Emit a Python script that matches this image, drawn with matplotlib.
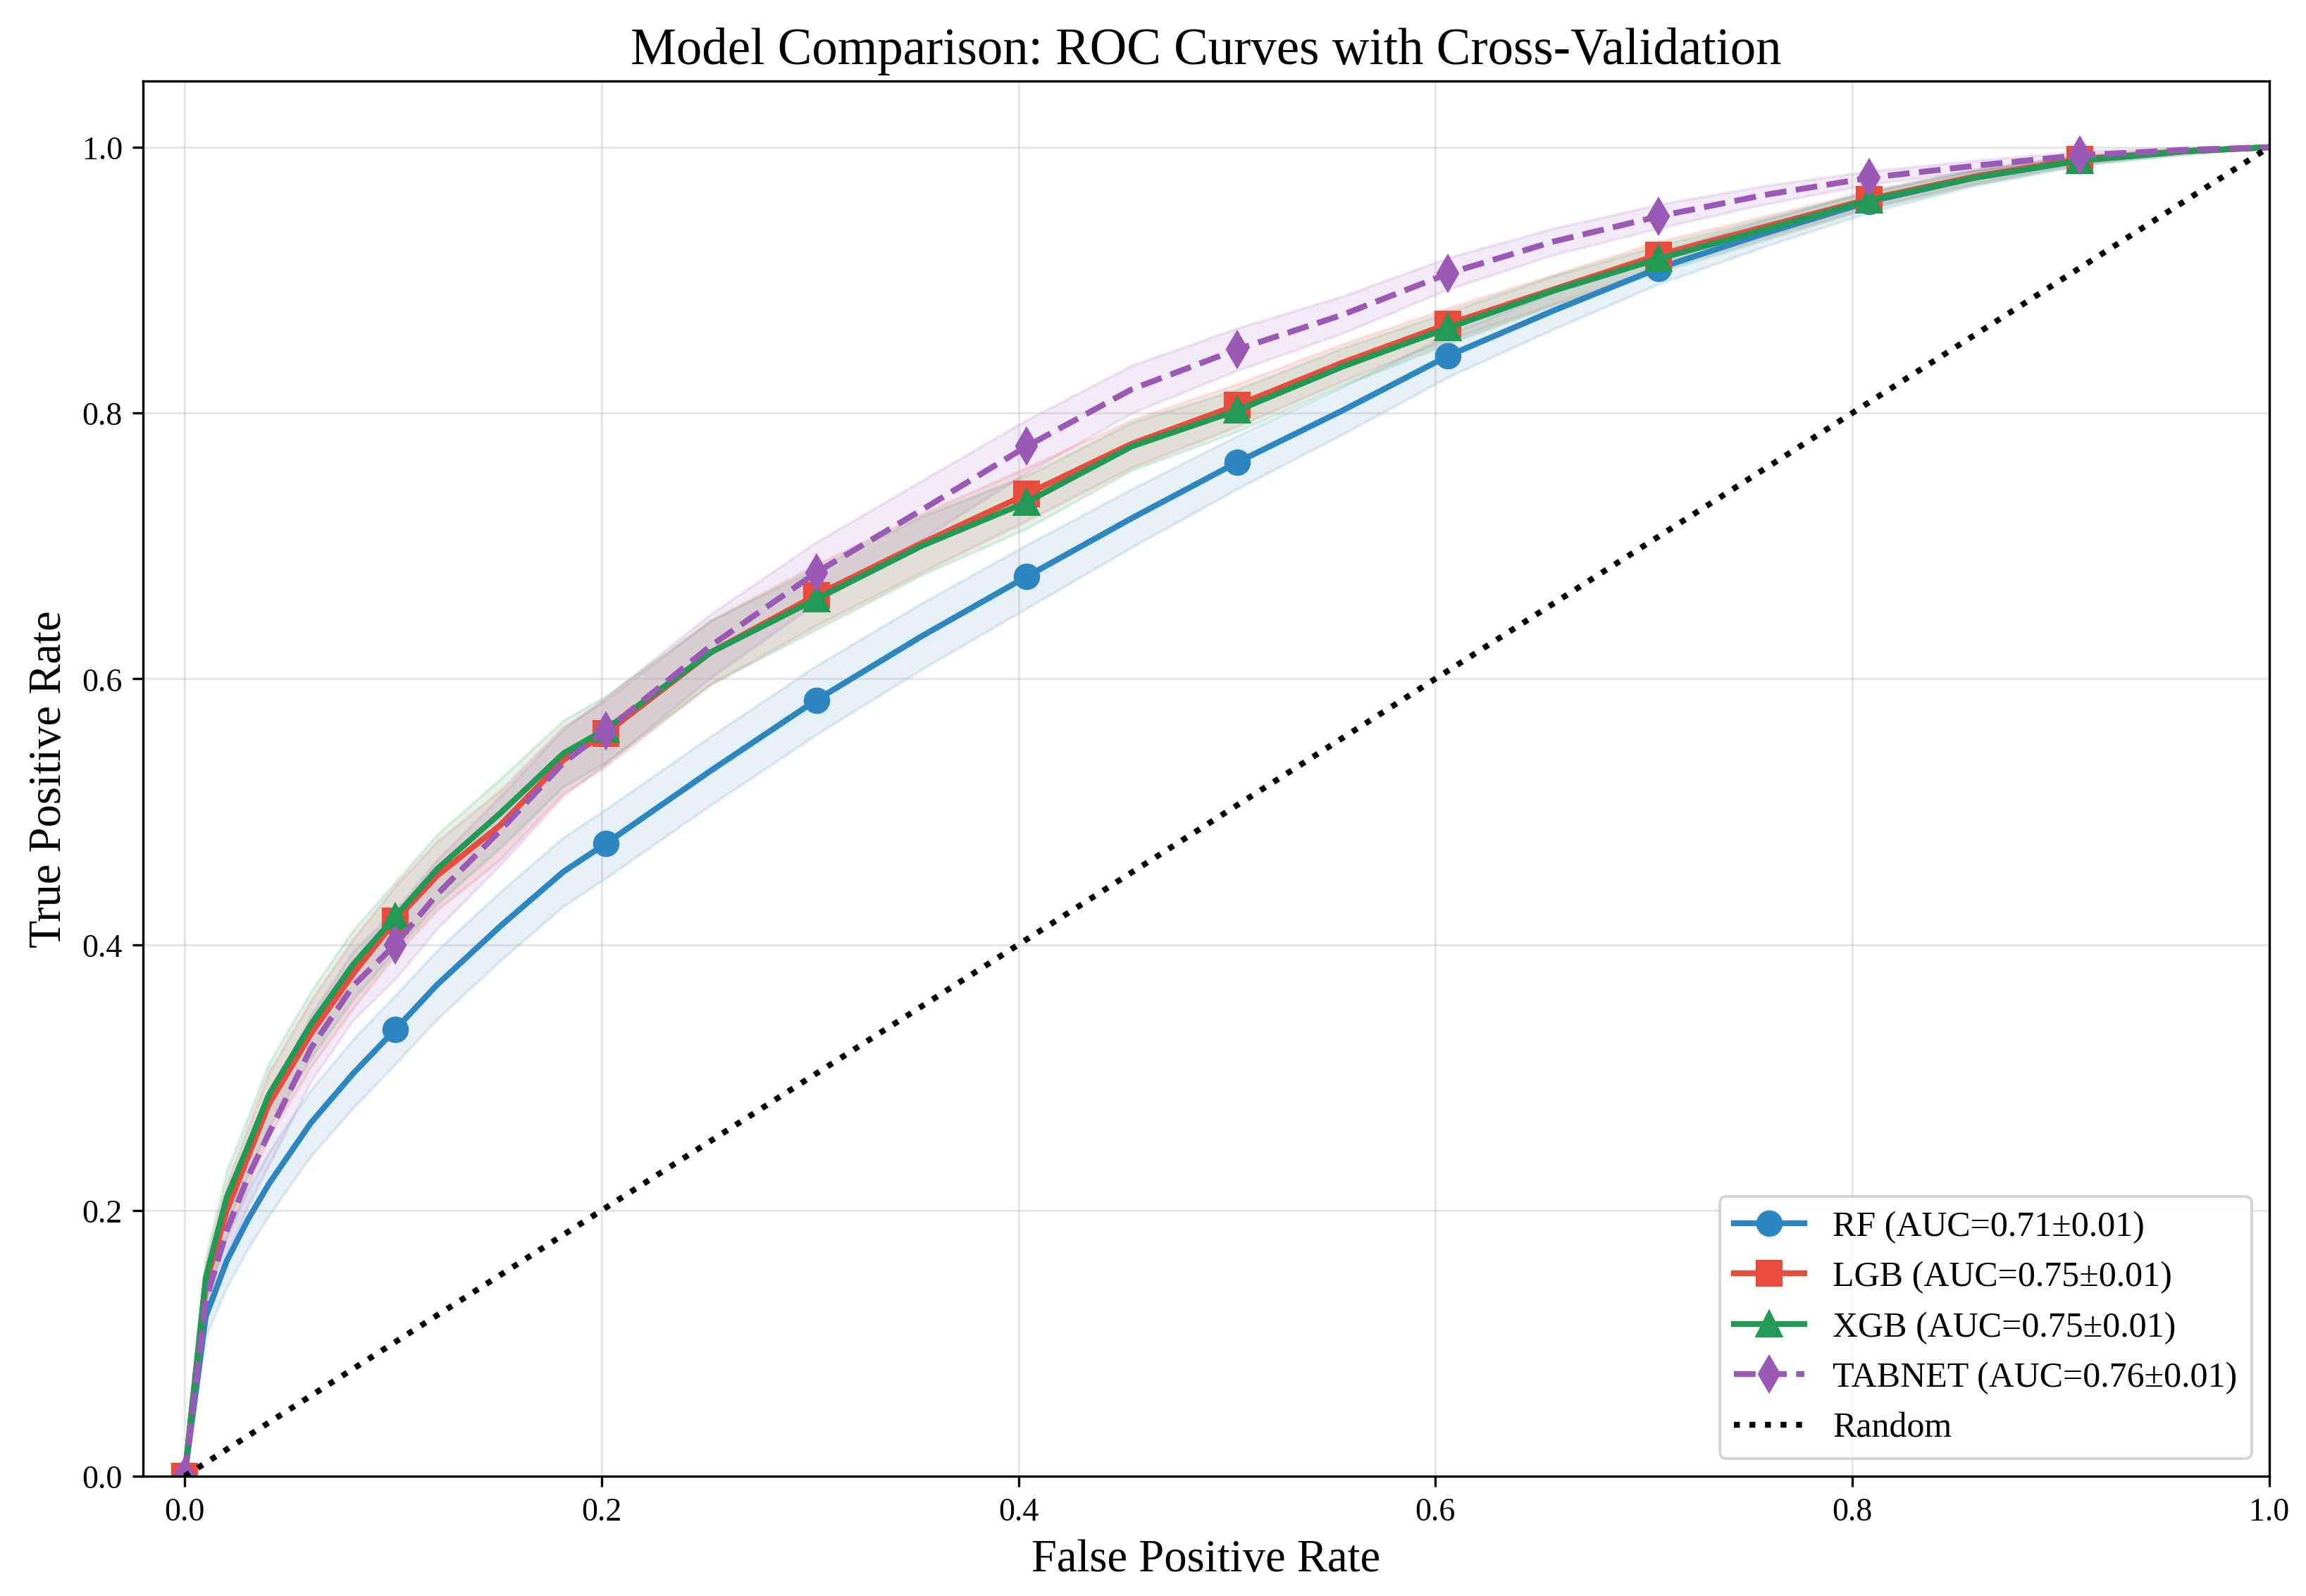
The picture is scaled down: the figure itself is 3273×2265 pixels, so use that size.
import matplotlib
matplotlib.use('Agg')
import matplotlib.pyplot as plt

plt.rcParams['font.family'] = ['Liberation Serif', 'DejaVu Serif']

# mean FPR grid (subset of the 100-point grid), markers every 10th grid point
fpr = [0.0, 0.0101, 0.0202, 0.0303, 0.0404, 0.0606, 0.0808, 0.1010, 0.1212,
       0.1515, 0.1818, 0.2020, 0.2525, 0.3030, 0.3535, 0.4040, 0.4545, 0.5051,
       0.5556, 0.6061, 0.6566, 0.7071, 0.7576, 0.8081, 0.8586, 0.9091, 0.9596, 1.0]
marker_idx = [0, 7, 11, 13, 15, 17, 19, 21, 23, 25]

models = ['RF', 'LGB', 'XGB', 'TABNET']
auc_mean = [0.71, 0.75, 0.75, 0.76]
auc_std = [0.01, 0.01, 0.01, 0.01]

tpr_rf = [0.0, 0.120, 0.162, 0.193, 0.220, 0.266, 0.303, 0.336, 0.370,
          0.414, 0.455, 0.476, 0.531, 0.584, 0.632, 0.677, 0.721, 0.763,
          0.802, 0.843, 0.877, 0.909, 0.935, 0.959, 0.977, 0.990, 0.997, 1.0]
tpr_lgb = [0.0, 0.145, 0.200, 0.240, 0.280, 0.333, 0.378, 0.418, 0.452,
           0.490, 0.539, 0.559, 0.620, 0.663, 0.702, 0.739, 0.777, 0.806,
           0.838, 0.867, 0.893, 0.919, 0.940, 0.961, 0.978, 0.991, 0.997, 1.0]
tpr_xgb = [0.0, 0.149, 0.210, 0.248, 0.287, 0.340, 0.385, 0.421, 0.457,
           0.499, 0.544, 0.562, 0.620, 0.660, 0.700, 0.733, 0.775, 0.802,
           0.835, 0.864, 0.892, 0.916, 0.938, 0.960, 0.977, 0.990, 0.997, 1.0]
tpr_tabnet = [0.0, 0.132, 0.185, 0.225, 0.258, 0.322, 0.369, 0.400, 0.438,
              0.486, 0.537, 0.561, 0.625, 0.680, 0.727, 0.775, 0.818, 0.848,
              0.874, 0.905, 0.929, 0.948, 0.964, 0.977, 0.986, 0.994, 0.998, 1.0]

std_rf = [0.0, 0.015, 0.020, 0.022, 0.024, 0.025, 0.026, 0.026, 0.026,
          0.026, 0.026, 0.026, 0.026, 0.026, 0.025, 0.024, 0.022, 0.020,
          0.018, 0.016, 0.014, 0.012, 0.010, 0.008, 0.006, 0.004, 0.002, 0.0]
std_lgb = [0.0, 0.015, 0.020, 0.022, 0.024, 0.025, 0.026, 0.026, 0.026,
           0.026, 0.025, 0.025, 0.024, 0.023, 0.022, 0.020, 0.018, 0.016,
           0.014, 0.012, 0.011, 0.010, 0.008, 0.006, 0.005, 0.003, 0.002, 0.0]
std_xgb = [0.0, 0.015, 0.020, 0.022, 0.024, 0.025, 0.026, 0.026, 0.026,
           0.026, 0.025, 0.025, 0.024, 0.023, 0.022, 0.020, 0.018, 0.016,
           0.014, 0.012, 0.011, 0.010, 0.008, 0.006, 0.005, 0.003, 0.002, 0.0]
std_tabnet = [0.0, 0.015, 0.020, 0.022, 0.024, 0.025, 0.026, 0.026, 0.026,
              0.026, 0.025, 0.025, 0.024, 0.023, 0.022, 0.020, 0.018, 0.016,
              0.014, 0.012, 0.010, 0.009, 0.007, 0.005, 0.004, 0.003, 0.002, 0.0]

tprs = [tpr_rf, tpr_lgb, tpr_xgb, tpr_tabnet]
stds = [std_rf, std_lgb, std_xgb, std_tabnet]
colors = ['#2E86C1', '#E74C3C', '#229954', '#9B59B6']
markers = ['o', 's', '^', 'd']
styles = ['-', '-', '-', '--']

fig, ax = plt.subplots(figsize=(10.91, 7.553), dpi=300)
fig.subplots_adjust(left=0.062, right=0.984, bottom=0.075, top=0.949)

for name, tpr, sd, m, s, c, mk, ls in zip(models, tprs, stds, auc_mean, auc_std,
                                          colors, markers, styles):
    lo = [max(t - d, 0) for t, d in zip(tpr, sd)]
    hi = [min(t + d, 1) for t, d in zip(tpr, sd)]
    ax.fill_between(fpr, lo, hi, color=c, alpha=0.12)
    ax.plot(fpr, tpr, color=c, linestyle=ls, linewidth=2, marker=mk,
            markersize=8, markevery=marker_idx,
            label=f'{name} (AUC={m:.2f}±{s:.2f})')

ax.plot([0, 1], [0, 1], 'k:', linewidth=2, label='Random')

ax.set_xlim(-0.02, 1.0)
ax.set_ylim(0.0, 1.05)
ax.tick_params(labelsize=11)
ax.set_xlabel('False Positive Rate', fontsize=15.5)
ax.set_ylabel('True Positive Rate', fontsize=15.5)
ax.set_title('Model Comparison: ROC Curves with Cross-Validation', fontsize=17.5)
ax.grid(True, alpha=0.3)
ax.legend(loc='lower right', fontsize=12)

plt.savefig('out.png', dpi=300)
